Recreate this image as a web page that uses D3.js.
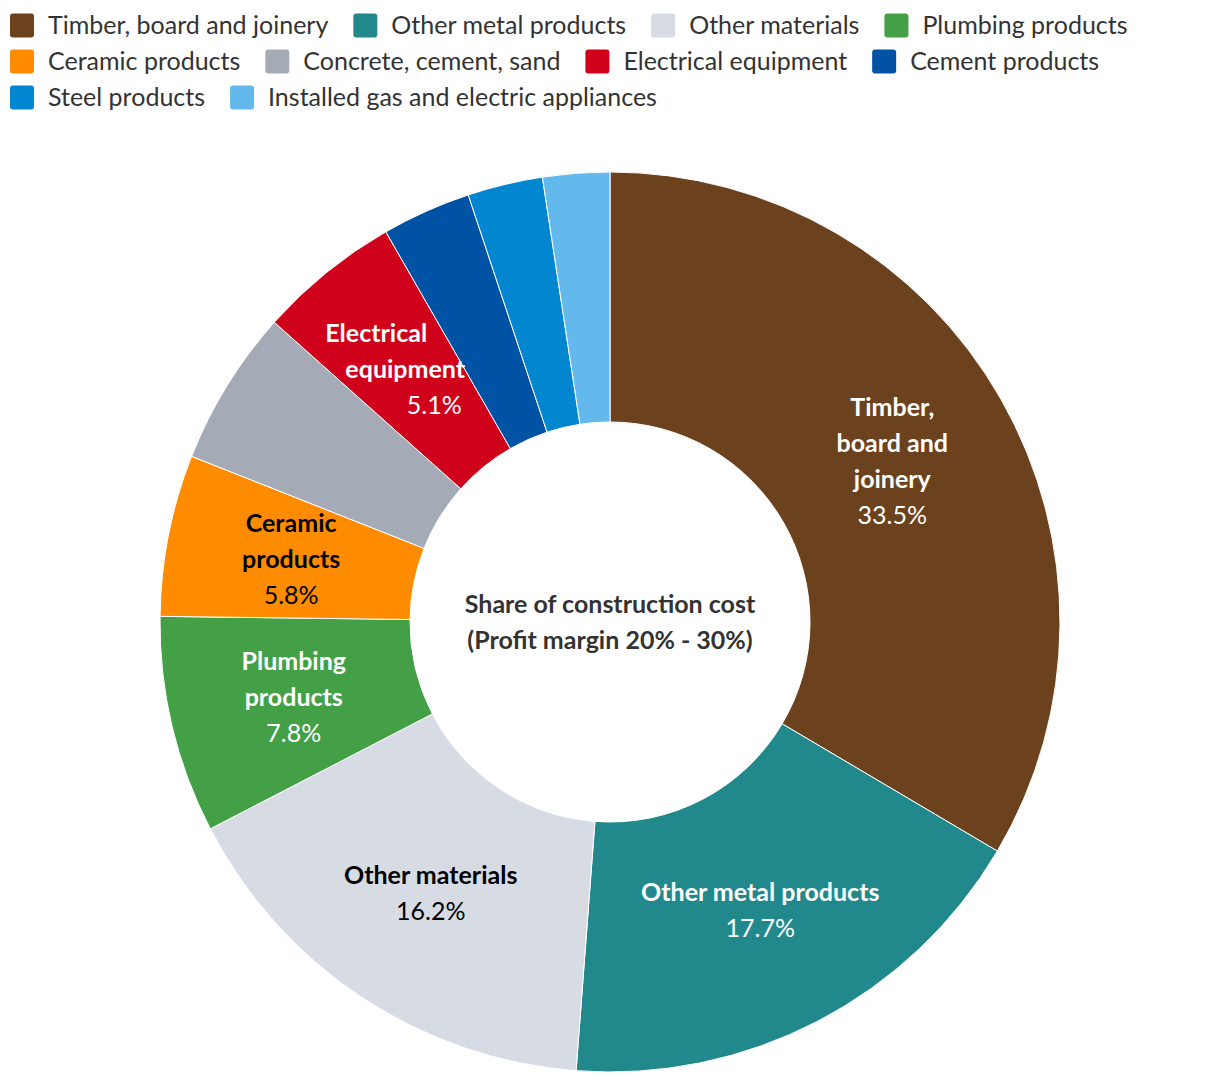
<!DOCTYPE html>
<html><head><meta charset="utf-8">
<script src="https://cdn.jsdelivr.net/npm/d3@7"></script>
<style>
html,body{margin:0;padding:0;background:#fff;}
svg text{font-family:Lato,"Noto Sans",sans-serif;}
</style></head>
<body>
<svg id="chart" width="1220" height="1084"></svg>
<script>
const categories = ["Timber, board and joinery","Other metal products","Other materials","Plumbing products","Ceramic products","Concrete, cement, sand","Electrical equipment","Cement products","Steel products","Installed gas and electric appliances"];
const values = [33.5,17.7,16.2,7.8,5.8,5.6,5.1,3.2,2.7,2.4];
const colors = ["#6b421d","#21898c","#d6dbe4","#43a047","#ff8c00","#a5aab7","#d0021b","#0052a5","#0386d0","#63b8ec"];
const labelLines = [["Timber,","board and","joinery"],["Other metal products"],["Other materials"],["Plumbing","products"],["Ceramic","products"],[],["Electrical","equipment"],[],[],[]];
const labelColors = ["#fff","#fff","#000","#fff","#000",null,"#fff",null,null,null];
const centerTitle = ["Share of construction cost","(Profit margin 20% - 30%)"];

const svg = d3.select("#chart");
const cx = 610, cy = 622, rOuter = 450, rInner = 200;
const fs = 25;

// Legend
const legend = svg.append("g");
let x = 10, y = 25;
const rowH = 36, maxW = 1210;
categories.forEach((c,i)=>{
  const g = legend.append("g");
  const t = g.append("text").attr("x",38).attr("y",0).attr("dy","0.35em")
    .attr("font-size",fs).attr("fill","#333").text(c);
  const tw = t.node().getComputedTextLength();
  const itemW = 38 + tw;
  if (x + itemW > maxW) { x = 10; y += rowH; }
  g.attr("transform",`translate(${x},${y})`);
  g.insert("rect","text").attr("x",0).attr("y",-11.5).attr("width",24).attr("height",24).attr("rx",3).attr("fill",colors[i]);
  x += itemW + 25;
});

// Donut
const data = categories.map((c,i)=>({name:c,value:values[i],i}));
const pie = d3.pie().value(d=>d.value).sort(null);
const arc = d3.arc().innerRadius(rInner).outerRadius(rOuter);
const labelArc = d3.arc().innerRadius((rInner+rOuter)/2).outerRadius((rInner+rOuter)/2);
const arcs = pie(data);
const g = svg.append("g").attr("transform",`translate(${cx},${cy})`);
g.selectAll("path").data(arcs).join("path")
  .attr("d",arc).attr("fill",d=>colors[d.data.i])
  .attr("stroke","#fff").attr("stroke-width",1);

const skew = {6: 29};
arcs.forEach(a=>{
  const i = a.data.i;
  const lines = labelLines[i];
  if (!lines.length) return;
  const [lx,ly] = labelArc.centroid(a);
  const all = lines.map(l=>({t:l,b:true})).concat([{t:d3.format(".1f")(values[i])+"%",b:false}]);
  const n = all.length, lh = 36;
  const sk = skew[i] || 0;
  const tg = g.append("text").attr("text-anchor","middle").attr("font-size",fs).attr("fill",labelColors[i]);
  all.forEach((l,k)=>{
    tg.append("tspan").attr("x",lx + (k-(n-1)/2)*sk).attr("y",ly + (k-(n-1)/2)*lh).attr("dy","0.35em")
      .attr("font-weight",l.b?"bold":"normal").text(l.t);
  });
});

// Center title
const ct = g.append("text").attr("text-anchor","middle").attr("font-size",fs).attr("font-weight","bold").attr("fill","#333");
centerTitle.forEach((t,k)=>{
  ct.append("tspan").attr("x",0).attr("y",-18 + k*36).attr("dy","0.35em").text(t);
});
</script>
</body></html>
